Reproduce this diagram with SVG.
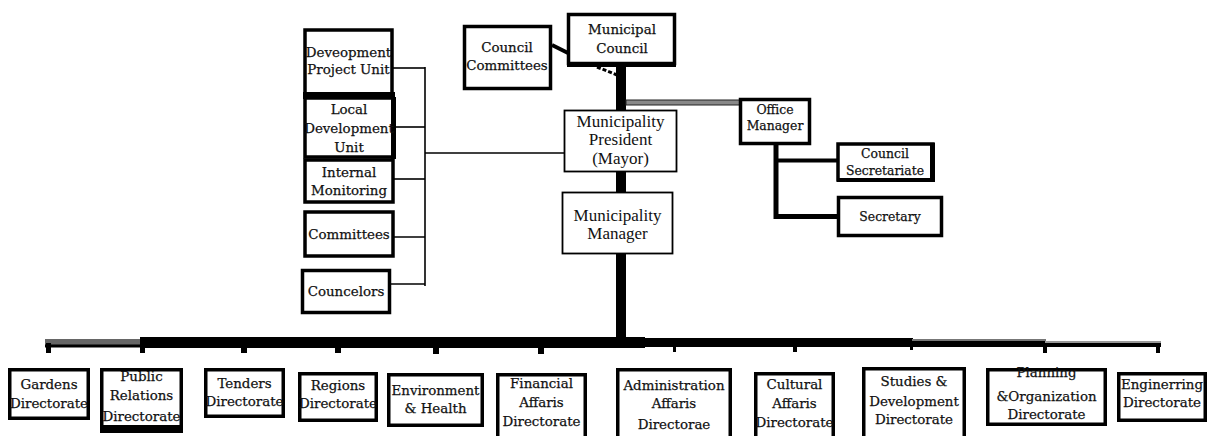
<svg xmlns="http://www.w3.org/2000/svg" width="1208" height="436" viewBox="0 0 1208 436">
  <style>
    .box { fill: #fff; stroke: #000; stroke-width: 3.5; }
    .thin { fill: #fff; stroke: #000; stroke-width: 1.8; }
    text { fill: #111; text-anchor: middle; }
    .t { font-family: "DejaVu Serif", serif; font-size: 13.4px; stroke: #111; stroke-width: 0.25; }
    .ts { font-family: "DejaVu Serif", serif; font-size: 12.4px; stroke: #111; stroke-width: 0.25; }
    .tm { font-family: "Liberation Serif", "Times New Roman", serif; font-size: 17px; }
    .ln { stroke: #000; stroke-width: 1.6; fill: none; }
    .hv { stroke: #000; fill: none; }
    .bar { fill: #000; }
  </style>
  <rect width="1208" height="436" fill="#fff"/>

  <!-- connectors -->
  <g id="connectors">
    <!-- main trunk -->
    <rect class="bar" x="616" y="64" width="10" height="284"/>
    <!-- council links -->
    <line class="hv" x1="552" y1="45" x2="568" y2="53" stroke-width="4"/>
    <line class="hv" x1="597" y1="67" x2="617" y2="75" stroke-width="3" stroke-dasharray="4 2"/>
    <!-- to office manager -->
    <rect x="626" y="100" width="114" height="5" fill="#888" stroke="#222" stroke-width="1"/>
    <!-- office manager branch -->
    <line class="hv" x1="776" y1="144" x2="776" y2="219" stroke-width="5"/>
    <line class="hv" x1="776" y1="160.5" x2="838" y2="160.5" stroke-width="4"/>
    <line class="hv" x1="776" y1="216.5" x2="838" y2="216.5" stroke-width="5"/>
    <!-- advisory units -->
    <line class="ln" x1="425" y1="67" x2="425" y2="286"/>
    <line class="ln" x1="393" y1="68" x2="425" y2="68"/>
    <line class="ln" x1="394" y1="127" x2="425" y2="127"/>
    <line class="ln" x1="394" y1="179" x2="425" y2="179"/>
    <line class="ln" x1="392" y1="237" x2="425" y2="237"/>
    <line class="ln" x1="391" y1="284" x2="425" y2="284"/>
    <line class="ln" x1="425" y1="153" x2="565" y2="153"/>
    <!-- directorates bus -->
    <rect x="45" y="339" width="97" height="8" fill="#666"/>
    <rect class="bar" x="45" y="344.5" width="97" height="3"/>
    <rect class="bar" x="140" y="337" width="505" height="11"/>
    <rect class="bar" x="640" y="338" width="273" height="9"/>
    <rect x="912" y="339" width="134" height="8" fill="#777"/>
    <rect class="bar" x="912" y="341" width="134" height="6"/>
    <rect x="1045" y="341" width="116" height="6" fill="#999"/>
    <rect class="bar" x="1045" y="343" width="116" height="4"/>
    <!-- drops -->
    <rect class="bar" x="46" y="343" width="5" height="10"/>
    <rect class="bar" x="140" y="345" width="5" height="8"/>
    <rect class="bar" x="241" y="345" width="6" height="8"/>
    <rect class="bar" x="335" y="345" width="6" height="8"/>
    <rect class="bar" x="433" y="345" width="6" height="9"/>
    <rect class="bar" x="538" y="345" width="6" height="9"/>
    <rect class="bar" x="673" y="345" width="3" height="7"/>
    <rect class="bar" x="793" y="345" width="4" height="7"/>
    <rect class="bar" x="910" y="345" width="3" height="5"/>
    <rect class="bar" x="1043" y="344" width="4" height="9"/>
    <rect class="bar" x="1156" y="344" width="4" height="9"/>
  </g>

  <!-- council -->
  <g id="municipal-council">
    <rect class="box" x="568.5" y="14.5" width="106" height="49"/>
    <rect class="bar" x="567" y="62" width="109" height="5"/>
    <text class="t" x="622" y="34">Municipal</text>
    <text class="t" x="622" y="53">Council</text>
  </g>
  <g id="council-committees">
    <rect class="box" x="464.5" y="26.5" width="86" height="62"/>
    <text class="t" x="507" y="52">Council</text>
    <text class="t" x="507" y="70">Committees</text>
  </g>

  <!-- executive -->
  <g id="president">
    <rect class="thin" x="564.5" y="110.5" width="112" height="61"/>
    <text class="tm" x="620.5" y="127">Municipality</text>
    <text class="tm" x="620.5" y="145">President</text>
    <text class="tm" x="620.5" y="164">(Mayor)</text>
  </g>
  <g id="manager">
    <rect class="thin" x="562.5" y="192.5" width="110" height="61"/>
    <text class="tm" x="617.5" y="221">Municipality</text>
    <text class="tm" x="617.5" y="239">Manager</text>
  </g>

  <!-- office -->
  <g id="office-manager">
    <rect class="box" x="740.5" y="99.5" width="69" height="44"/>
    <text class="ts" x="775" y="114">Office</text>
    <text class="ts" x="775" y="130">Manager</text>
  </g>
  <g id="council-secretariate">
    <rect class="box" x="838" y="144" width="95" height="36" stroke-width="2"/>
    <rect class="bar" x="930" y="143" width="5" height="39"/>
    <rect class="bar" x="837" y="178" width="98" height="4"/>
    <text class="ts" x="885" y="158">Council</text>
    <text class="ts" x="885" y="175">Secretariate</text>
  </g>
  <g id="secretary">
    <rect class="box" x="838.5" y="197.5" width="103" height="38" stroke-width="4"/>
    <text class="ts" x="890" y="221">Secretary</text>
  </g>

  <!-- advisory units -->
  <g id="development-project-unit">
    <rect class="box" x="305" y="30" width="87" height="65" stroke-width="4"/>
    <rect class="bar" x="303" y="92" width="92" height="7"/>
    <text class="t" x="348.5" y="57">Deveopment</text>
    <text class="t" x="348.5" y="74">Project  Unit</text>
  </g>
  <g id="local-development-unit">
    <rect class="box" x="305" y="98" width="88" height="59" stroke-width="4"/>
    <rect class="bar" x="391" y="97" width="5" height="62"/>
    <text class="t" x="349" y="114">Local</text>
    <text class="t" x="349" y="133">Development</text>
    <text class="t" x="349" y="152">Unit</text>
  </g>
  <g id="internal-monitoring">
    <rect class="box" x="305" y="160" width="88" height="42" stroke-width="4"/>
    <text class="t" x="349" y="177">Internal</text>
    <text class="t" x="349" y="195">Monitoring</text>
  </g>
  <g id="committees">
    <rect class="box" x="305" y="212" width="88" height="44"/>
    <text class="t" x="349" y="239">Committees</text>
  </g>
  <g id="councelors">
    <rect class="box" x="302.5" y="270.5" width="87" height="42" stroke-width="5"/>
    <text class="t" x="346" y="296">Councelors</text>
  </g>

  <!-- directorates -->
  <g id="gardens">
    <rect class="box" x="9.75" y="369.75" width="78.5" height="48.5"/>
    <text class="t" x="49" y="389">Gardens</text>
    <text class="t" x="49" y="408">Directorate</text>
  </g>
  <g id="public-relations">
    <rect class="box" x="101.75" y="369.75" width="79.5" height="61.5"/>
    <rect class="bar" x="100" y="425" width="83" height="8"/>
    <text class="t" x="141.5" y="381">Public</text>
    <text class="t" x="141.5" y="400">Relations</text>
    <text class="t" x="141.5" y="421">Directorate</text>
  </g>
  <g id="tenders">
    <rect class="box" x="205.75" y="369.75" width="77.5" height="46.5"/>
    <text class="t" x="244.5" y="388">Tenders</text>
    <text class="t" x="244.5" y="406">Directorate</text>
  </g>
  <g id="regions">
    <rect class="box" x="299.75" y="373.75" width="76.5" height="46.5"/>
    <text class="t" x="338" y="390">Regions</text>
    <text class="t" x="338" y="408">Directorate</text>
  </g>
  <g id="environment-health">
    <rect class="box" x="388.75" y="374.75" width="93.5" height="50.5"/>
    <text class="t" x="435.5" y="395">Environment</text>
    <text class="t" x="435.5" y="413">&amp; Health</text>
  </g>
  <g id="financial-affairs">
    <rect class="box" x="497.75" y="374.75" width="87.5" height="70"/>
    <text class="t" x="541.5" y="388">Financial</text>
    <text class="t" x="541.5" y="407">Affaris</text>
    <text class="t" x="541.5" y="426">Directorate</text>
  </g>
  <g id="administration-affairs">
    <rect class="box" x="617.75" y="369.75" width="112.5" height="75"/>
    <text class="t" x="674" y="390">Administration</text>
    <text class="t" x="674" y="408">Affaris</text>
    <text class="t" x="674" y="429">Directorae</text>
  </g>
  <g id="cultural-affairs">
    <rect class="box" x="755.75" y="373.75" width="77.5" height="70"/>
    <text class="t" x="794.5" y="389">Cultural</text>
    <text class="t" x="794.5" y="408">Affaris</text>
    <text class="t" x="794.5" y="427">Directorate</text>
  </g>
  <g id="studies-development">
    <rect class="box" x="863.75" y="368.75" width="100.5" height="75"/>
    <text class="t" x="914" y="386">Studies &amp;</text>
    <text class="t" x="914" y="406">Development</text>
    <text class="t" x="914" y="424">Directorate</text>
  </g>
  <g id="planning-organization">
    <rect class="box" x="987.75" y="369.75" width="117.5" height="54.5"/>
    <text class="t" x="1046.5" y="377">Planning</text>
    <text class="t" x="1046.5" y="401">&amp;Organization</text>
    <text class="t" x="1046.5" y="419">Directorate</text>
  </g>
  <g id="engineering">
    <rect class="box" x="1118.75" y="373.75" width="86.5" height="46.5"/>
    <text class="t" x="1162" y="389">Enginerring</text>
    <text class="t" x="1162" y="407">Directorate</text>
  </g>
</svg>
